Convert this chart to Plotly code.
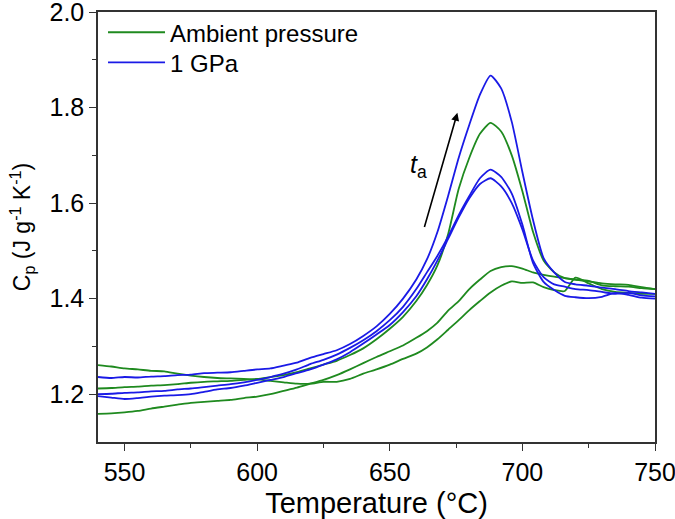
import plotly.graph_objects as go

T = [540, 545, 550, 555, 560, 565, 570, 575, 580, 585, 590, 595, 600, 605, 610, 615,
     620, 625, 630, 635, 640, 645, 650, 655, 660, 664, 668, 672, 676, 680, 684, 688,
     692, 696, 700, 704, 708, 712, 716, 720, 725, 730, 735, 740, 745, 750]

blue_1 = [1.236, 1.234, 1.236, 1.235, 1.237, 1.238, 1.240, 1.241, 1.244, 1.245, 1.246, 1.249,
          1.252, 1.254, 1.260, 1.266, 1.276, 1.284, 1.292, 1.305, 1.322, 1.342, 1.368, 1.400,
          1.440, 1.482, 1.540, 1.615, 1.695, 1.764, 1.827, 1.867, 1.840, 1.770, 1.665, 1.565,
          1.485, 1.455, 1.435, 1.430, 1.427, 1.423, 1.420, 1.416, 1.413, 1.410]
blue_2 = [1.200, 1.201, 1.203, 1.204, 1.206, 1.207, 1.210, 1.212, 1.215, 1.218, 1.221, 1.225,
          1.230, 1.236, 1.243, 1.252, 1.263, 1.272, 1.283, 1.297, 1.313, 1.332, 1.355, 1.383,
          1.420, 1.455, 1.490, 1.530, 1.575, 1.615, 1.652, 1.670, 1.655, 1.620, 1.555, 1.475,
          1.435, 1.418, 1.406, 1.403, 1.401, 1.404, 1.412, 1.408, 1.402, 1.400]
blue_3 = [1.196, 1.193, 1.190, 1.192, 1.195, 1.197, 1.198, 1.200, 1.205, 1.210, 1.213, 1.218,
          1.224, 1.230, 1.236, 1.244, 1.252, 1.262, 1.273, 1.288, 1.306, 1.325, 1.345, 1.372,
          1.405, 1.440, 1.480, 1.525, 1.570, 1.610, 1.640, 1.652, 1.635, 1.600, 1.545, 1.480,
          1.445, 1.430, 1.425, 1.420, 1.418, 1.414, 1.410, 1.412, 1.407, 1.405]
green_1 = [1.212, 1.213, 1.215, 1.216, 1.218, 1.219, 1.221, 1.224, 1.226, 1.227, 1.228, 1.230,
           1.232, 1.236, 1.240, 1.246, 1.254, 1.262, 1.270, 1.282, 1.296, 1.315, 1.337, 1.362,
           1.395, 1.428, 1.470, 1.535, 1.630, 1.695, 1.745, 1.768, 1.750, 1.700, 1.625, 1.540,
           1.480, 1.455, 1.443, 1.440, 1.437, 1.428, 1.426, 1.425, 1.422, 1.420]
green_2 = [1.159, 1.160, 1.162, 1.165, 1.170, 1.174, 1.178, 1.182, 1.184, 1.186, 1.188, 1.192,
           1.195, 1.200, 1.207, 1.214, 1.222, 1.230, 1.240, 1.252, 1.265, 1.278, 1.290, 1.302,
           1.318, 1.332, 1.350, 1.375, 1.395, 1.420, 1.440, 1.458, 1.466, 1.468, 1.463, 1.455,
           1.450, 1.446, 1.443, 1.440, 1.436, 1.432, 1.430, 1.429, 1.424, 1.420]
green_3 = [1.261, 1.258, 1.254, 1.252, 1.249, 1.248, 1.243, 1.239, 1.236, 1.234, 1.233, 1.232,
           1.231, 1.228, 1.225, 1.222, 1.222, 1.226, 1.226, 1.232, 1.243, 1.252, 1.262, 1.274,
           1.285, 1.298, 1.315, 1.335, 1.355, 1.376, 1.395, 1.413, 1.427, 1.436, 1.433, 1.434,
           1.424, 1.418, 1.416, 1.444, 1.432, 1.420, 1.414, 1.412, 1.410, 1.410]

x_ticks = [550, 600, 650, 700, 750]
x_minor = [575, 625, 675, 725]
y_ticks = [1.2, 1.4, 1.6, 1.8, 2.0]
y_minor = [1.3, 1.5, 1.7, 1.9]

GREEN = "#1f8a1f"
BLUE = "#1a1ae6"
FONT = "Liberation Sans, Arial, sans-serif"

fig = go.Figure()
series = [
    (green_1, GREEN, "Ambient pressure", True, "legend"),
    (green_2, GREEN, "Ambient pressure", False, "legend"),
    (green_3, GREEN, "Ambient pressure", False, "legend"),
    (blue_1, BLUE, "1 GPa", True, "legend2"),
    (blue_2, BLUE, "1 GPa", False, "legend2"),
    (blue_3, BLUE, "1 GPa", False, "legend2"),
]
for ys, col, name, show, leg in series:
    fig.add_trace(go.Scatter(x=T, y=ys, mode="lines", name=name, showlegend=show,
                             legend=leg,
                             line=dict(color=col, width=1.8, shape="spline", smoothing=0.6)))

fig.add_annotation(x=675.5, y=1.789, ax=662.9, ay=1.547, xref="x", yref="y",
                   axref="x", ayref="y", text="", showarrow=True, arrowhead=2,
                   arrowsize=1, arrowwidth=1.6, arrowcolor="black")
fig.add_annotation(x=660.7, y=1.678, xref="x", yref="y", text="<i>t</i><sub>a</sub>",
                   showarrow=False, font=dict(size=25, color="black", family=FONT))

axis_common = dict(showline=True, linecolor="#333333", linewidth=1.5, mirror=True,
                   ticks="outside", ticklen=7, tickwidth=1.3, tickcolor="#333333",
                   showgrid=False, zeroline=False, automargin=False,
                   ticklabeloverflow="allow",
                   tickfont=dict(size=25, color="black", family=FONT))

fig.update_xaxes(range=[540, 750], tickvals=x_ticks,
                 minor=dict(tickvals=x_minor, ticks="outside", ticklen=4,
                            tickwidth=1.3, tickcolor="#333333"),
                 title=dict(text="Temperature (°C)", font=dict(size=29, color="black", family=FONT),
                            standoff=10),
                 **axis_common)
fig.update_yaxes(range=[1.1, 2.0], tickvals=y_ticks, tickformat=".1f",
                 minor=dict(tickvals=y_minor, ticks="outside", ticklen=4,
                            tickwidth=1.3, tickcolor="#333333"),
                 title=dict(text="C<sub>p</sub> (J g<sup>-1</sup> K<sup>-1</sup>)",
                            font=dict(size=23, color="black", family=FONT), standoff=12),
                 **axis_common)

leg_common = dict(xanchor="left", yanchor="middle", bgcolor="rgba(0,0,0,0)",
                  font=dict(size=24, family=FONT, color="black"), itemwidth=57)
fig.update_layout(
    width=675, height=519,
    margin=dict(l=98, r=20, t=10, b=77),
    plot_bgcolor="white", paper_bgcolor="white",
    font=dict(family=FONT, color="black"),
    legend=dict(x=0.009, y=0.952, **leg_common),
    legend2=dict(x=0.009, y=0.882, **leg_common),
)

fig.write_html("out.html", config={"displayModeBar": False},
               post_script="document.body.style.margin='0';")
